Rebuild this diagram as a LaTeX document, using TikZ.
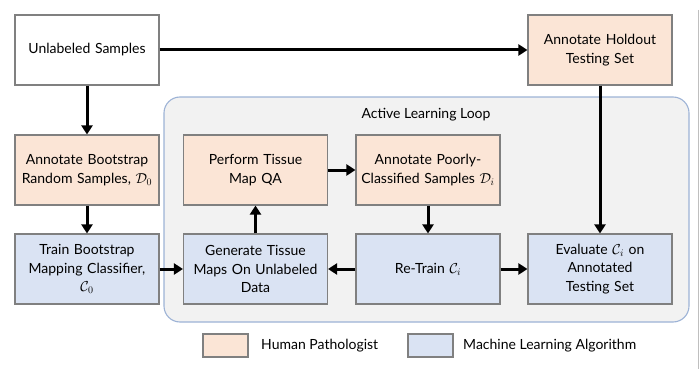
\documentclass[tikz,border=0pt]{standalone}
\usepackage{fontspec}
\setmainfont{Lato}
\usetikzlibrary{arrows.meta}
\definecolor{peach}{HTML}{FBE5D6}
\definecolor{bluefill}{HTML}{DAE3F3}
\definecolor{boxline}{HTML}{808080}
\definecolor{loopfill}{HTML}{F2F2F2}
\definecolor{loopline}{HTML}{9DB3D6}
\tikzset{
  stepbox/.style={draw=boxline, line width=1.1pt, minimum width=144pt, minimum height=70pt,
    text width=140pt, align=center, inner sep=0pt, font=\fontsize{14}{18.5}\selectfont},
  human/.style={stepbox, fill=peach},
  machine/.style={stepbox, fill=bluefill},
  flow/.style={line width=3pt, -{Triangle[length=9pt,width=11pt]}},
  legbox/.style={draw=boxline, line width=1.1pt, minimum width=45pt, minimum height=23pt, inner sep=0pt},
  legtext/.style={anchor=west, inner sep=0pt, font=\fontsize{14}{17}\selectfont}
}
\begin{document}
\begin{tikzpicture}[x=1pt, y=-1pt]
\useasboundingbox (0,0) rectangle (699,369);
\draw[gray!50, line width=0.8pt] (698.4,10) -- (698.4,369);
% loop container
\node[draw=loopline, fill=loopfill, line width=1.1pt, rounded corners=16pt,
  minimum width=525pt, minimum height=225pt, inner sep=0pt] (loop) at (426.5,209.5) {};
\node[font=\fontsize{14}{17}\selectfont, inner sep=0pt] (looptitle) at (426,115) {Active Learning Loop};
% boxes
\node[stepbox, fill=white] (unl) at (87,50) {Unlabeled Samples};
\node[human] (hold) at (600,50) {Annotate Holdout\\Testing Set};
\node[human] (boot) at (87,170) {Annotate Bootstrap\\Random Samples, $\mathcal{D}_0$};
\node[machine] (train) at (87,269) {Train Bootstrap\\Mapping Classifier,\\$\mathcal{C}_0$};
\node[human] (qa) at (255.5,170) {Perform Tissue\\Map QA};
\node[machine] (gen) at (255.5,269) {Generate Tissue\\Maps On Unlabeled\\Data};
\node[human] (poor) at (428,170) {Annotate Poorly-\\Classified Samples $\mathcal{D}_i$};
\node[machine] (retrain) at (428,269) {Re-Train $\mathcal{C}_i$};
\node[machine] (eval) at (600,269) {Evaluate $\mathcal{C}_i$ on\\Annotated\\Testing Set};
% connectors
\draw[flow] (unl) -- (hold);
\draw[flow] (unl) -- (boot);
\draw[flow] (boot) -- (train);
\draw[flow] (train) -- (gen);
\draw[flow] (gen) -- (qa);
\draw[flow] (qa) -- (poor);
\draw[flow] (poor) -- (retrain);
\draw[flow] (retrain) -- (gen);
\draw[flow] (retrain) -- (eval);
\draw[flow] (hold) -- (eval);
% legend
\node[legbox, fill=peach] (lh) at (225.5,345.5) {};
\node[legtext] (lht) at (261,345.5) {Human Pathologist};
\node[legbox, fill=bluefill] (lm) at (430.5,345.5) {};
\node[legtext] (lmt) at (463,345.5) {Machine Learning Algorithm};
\end{tikzpicture}
\end{document}
